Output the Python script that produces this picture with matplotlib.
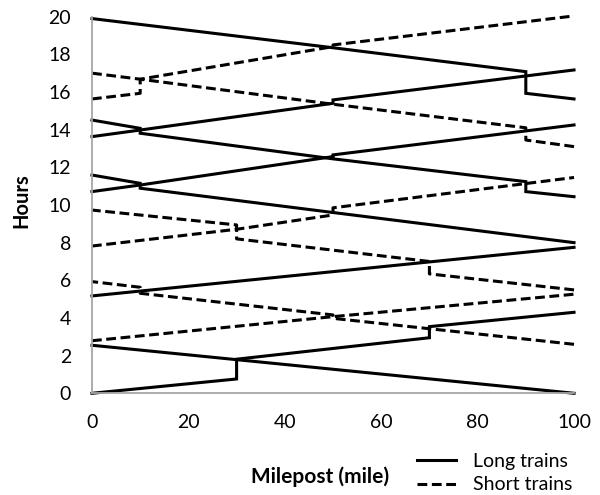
import matplotlib
matplotlib.use("Agg")
import matplotlib.pyplot as plt
from matplotlib.lines import Line2D

plt.rcParams['font.family'] = ['Lato', 'DejaVu Sans']

# %% data: milepost (x) and hours (y) for each train path
# long trains (solid)
e1_x = [0, 30, 30, 70, 70, 100]
e1_y = [0, 0.76, 1.81, 2.95, 3.54, 4.3]
w1_x = [100, 0]
w1_y = [0, 2.55]
e3_x = [0, 100]
e3_y = [5.17, 7.75]
w4_x = [100, 50, 10, 10, 0]
w4_y = [8.0, 9.6, 10.89, 11.15, 11.59]
e5_x = [0, 10, 50, 50, 100]
e5_y = [10.71, 11.06, 12.57, 12.66, 14.25]
w5_x = [100, 90, 90, 50, 10, 10, 0]
w5_y = [10.44, 10.71, 11.24, 12.45, 13.81, 14.07, 14.51]
e6_x = [0, 10, 50, 50, 100]
e6_y = [13.63, 13.98, 15.4, 15.58, 17.17]
w7_x = [100, 90, 90, 50, 0]
w7_y = [15.63, 15.93, 17.08, 18.35, 19.9]

# short trains (dashed)
e2_x = [0, 50, 100]
e2_y = [2.79, 4.07, 5.26]
w2_x = [100, 50, 50, 10, 10, 0]
w2_y = [2.6, 3.98, 4.16, 5.31, 5.63, 5.93]
w3_x = [100, 70, 70, 30, 30, 0]
w3_y = [5.49, 6.34, 7.0, 8.2, 8.94, 9.73]
e4_x = [0, 30, 50, 50, 100]
e4_y = [7.82, 8.71, 9.47, 9.85, 11.46]
w6_x = [100, 90, 90, 50, 10, 0]
w6_y = [13.1, 13.45, 14.1, 15.35, 16.68, 17.0]
e7_x = [0, 10, 10, 50, 50, 100]
e7_y = [15.63, 15.93, 16.68, 18.41, 18.5, 20.04]

long_trains = [(e1_x, e1_y), (w1_x, w1_y), (e3_x, e3_y), (w4_x, w4_y),
               (e5_x, e5_y), (w5_x, w5_y), (e6_x, e6_y), (w7_x, w7_y)]
short_trains = [(e2_x, e2_y), (w2_x, w2_y), (w3_x, w3_y), (e4_x, e4_y),
                (w6_x, w6_y), (e7_x, e7_y)]

x_ticks = [0, 20, 40, 60, 80, 100]
y_ticks = list(range(0, 21, 2))

# %% plot
lw = 2.2
dash = (3.2, 1.5)

fig = plt.figure(figsize=(6, 4.95), dpi=100)
ax = fig.add_axes([0.1533, 0.2055, 0.8034, 0.7608])

for xs, ys in long_trains:
    ax.plot(xs, ys, color='black', lw=lw, solid_joinstyle='miter', clip_on=False)
for xs, ys in short_trains:
    ax.plot(xs, ys, color='black', lw=lw, dashes=dash, dash_capstyle='butt',
            clip_on=False)

ax.set_xlim(0, 100)
ax.set_ylim(0, 20)
ax.set_xticks(x_ticks)
ax.set_yticks(y_ticks)
ax.tick_params(length=0, pad=15, labelsize=14, colors='black')
for s in ['top', 'right']:
    ax.spines[s].set_visible(False)
for s in ['left', 'bottom']:
    ax.spines[s].set_color('#a6a6a6')
    ax.spines[s].set_linewidth(1.3)

fig.text(21 / 600, 1 - 201 / 495, 'Hours', rotation=90, fontsize=14.5,
         fontweight='bold', ha='center', va='center')
fig.text(320 / 600, 1 - 477 / 495, 'Milepost (mile)', fontsize=15,
         fontweight='bold', ha='center', va='center')

handles = [Line2D([], [], color='black', lw=lw),
           Line2D([], [], color='black', lw=lw, dashes=dash, dash_capstyle='butt')]
fig.legend(handles, ['Long trains', 'Short trains'], loc='center left',
           bbox_to_anchor=(417 / 600, 1 - 473 / 495), frameon=False,
           fontsize=14, borderpad=0, handlelength=2.0, handletextpad=0.9,
           labelspacing=0.35, borderaxespad=0)

fig.savefig('out.png', dpi=100)
